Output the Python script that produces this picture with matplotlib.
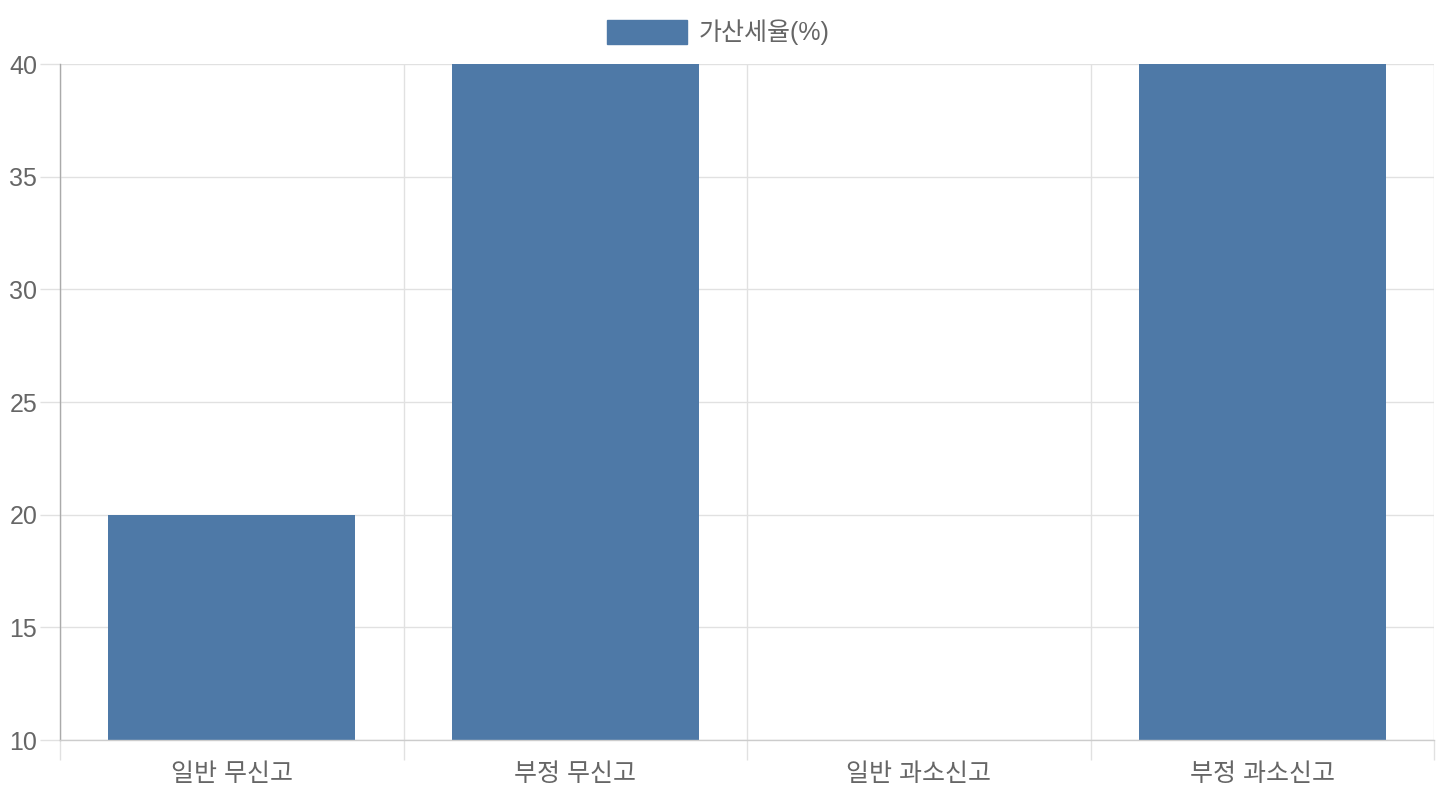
import matplotlib
matplotlib.use("Agg")
import matplotlib.pyplot as plt
from matplotlib.patches import Rectangle
import numpy as np

plt.rcParams['font.family'] = ['Liberation Sans', 'Noto Sans CJK KR', 'DejaVu Sans']

categories = ["일반 무신고", "부정 무신고", "일반 과소신고", "부정 과소신고"]
values = [20, 40, 10, 40]
series_name = "가산세율(%)"
y_ticks = [10, 15, 20, 25, 30, 35, 40]

bar_color = "#4e79a7"
text_color = "#666666"
grid_color = "#e1e1e1"

W, H = 1440, 800
fig = plt.figure(figsize=(W / 100, H / 100), dpi=100)
ax = fig.add_axes([60 / W, 1 - 740 / H, (1434 - 60) / W, (740 - 64) / H])

x = np.arange(len(categories))
ax.bar(x, values, width=0.72, color=bar_color, zorder=2)

ax.set_xlim(-0.5, len(categories) - 0.5)
ax.set_ylim(10, 40)

# y axis
ax.set_yticks(y_ticks)
ax.set_yticklabels([str(v) for v in y_ticks])
ax.tick_params(axis='y', length=14.4, width=1, color=grid_color, pad=2,
               labelsize=18, labelcolor=text_color)
ax.yaxis.grid(True, color=grid_color, linewidth=1, zorder=0)

# x axis: labels at centers, ticks/grid at boundaries
ax.set_xticks(x)
ax.set_xticklabels(categories)
ax.set_xticks(np.arange(-0.5, len(categories)), minor=True)
ax.tick_params(axis='x', which='major', length=0, pad=16, labelsize=18, labelcolor=text_color)
ax.tick_params(axis='x', which='minor', length=14.4, width=1, color=grid_color)
ax.xaxis.grid(True, which='minor', color=grid_color, linewidth=1, zorder=0)
ax.xaxis.grid(False, which='major')

ax.set_axisbelow(True)
for s in ['top', 'right']:
    ax.spines[s].set_visible(False)
ax.spines['left'].set_color('#aaaaaa')
ax.spines['bottom'].set_color('#cccccc')
ax.spines['left'].set_linewidth(1)
ax.spines['bottom'].set_linewidth(1)

# legend
fig.patches.append(Rectangle((607 / W, 1 - 44 / H), 80 / W, 24 / H,
                             transform=fig.transFigure, color=bar_color))
fig.text(699 / W, 1 - 32 / H, series_name, ha='left', va='center',
         fontsize=18, color=text_color)

fig.savefig("out.png", dpi=100)
